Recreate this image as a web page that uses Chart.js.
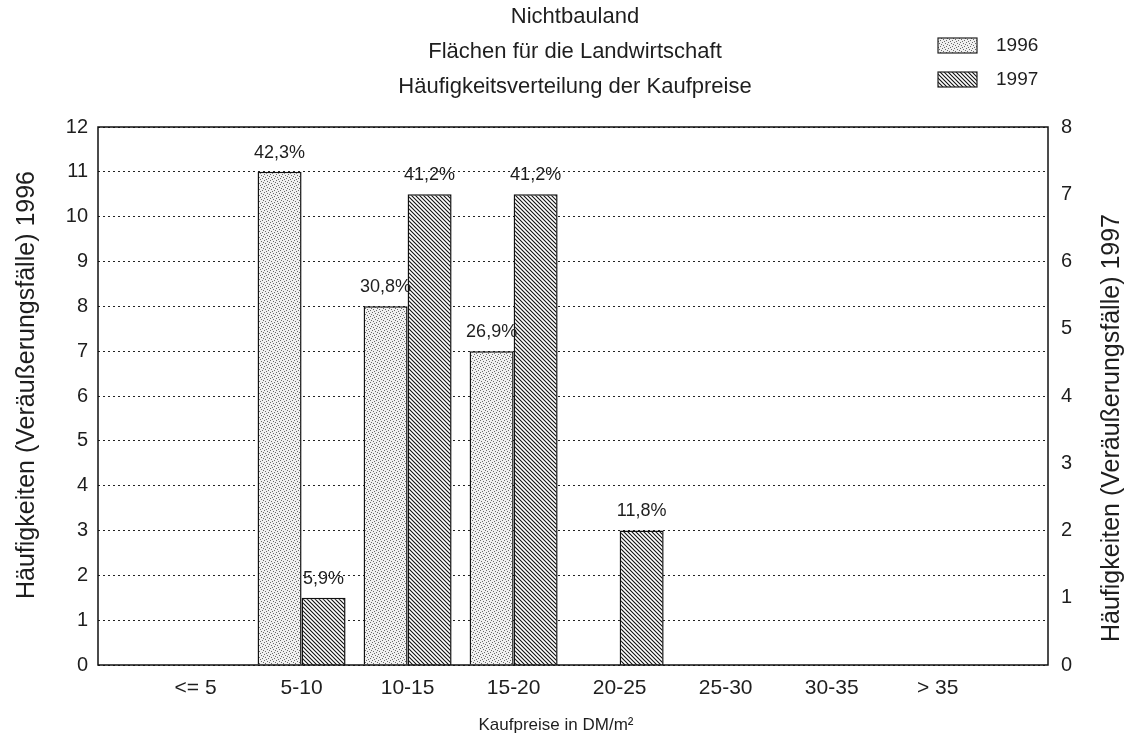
<!DOCTYPE html>
<html>
<head>
<meta charset="utf-8">
<script src="https://cdn.jsdelivr.net/npm/chart.js@4.4.1/dist/chart.umd.min.js"></script>
<style>
  html, body { margin: 0; padding: 0; background: #fff; }
</style>
</head>
<body>
<canvas id="chart" width="1134" height="746"></canvas>
<script>
// data
const categories = ['<= 5', '5-10', '10-15', '15-20', '20-25', '25-30', '30-35', '> 35'];
const values1996 = [0, 11, 8, 7, 0, 0, 0, 0];
const values1997 = [0, 1, 7, 7, 2, 0, 0, 0];
const seriesNames = ['1996', '1997'];
const titleLines = ['Nichtbauland', 'Flächen für die Landwirtschaft', 'Häufigkeitsverteilung der Kaufpreise'];
const xTitle = 'Kaufpreise in DM/m²';
const leftTitle = 'Häufigkeiten (Veräußerungsfälle) 1996';
const rightTitle = 'Häufigkeiten (Veräußerungsfälle) 1997';

const FONT = "'Liberation Sans', Arial, sans-serif";
const INK = '#1e1e1e';

const canvas = document.getElementById('chart');
const ctx = canvas.getContext('2d');

// light stipple for 1996
function stipplePattern() {
  const c = document.createElement('canvas');
  c.width = 6; c.height = 6;
  const g = c.getContext('2d');
  g.fillStyle = '#f0f0f0';
  g.fillRect(0, 0, 6, 6);
  g.fillStyle = '#6a6a6a';
  [[0, 0], [3, 1], [1, 3], [4, 4], [5, 2], [2, 5]].forEach(([x, y]) => g.fillRect(x, y, 1, 1));
  return ctx.createPattern(c, 'repeat');
}

// diagonal hatch for 1997
function hatchPattern() {
  const s = 4;
  const c = document.createElement('canvas');
  c.width = s; c.height = s;
  const g = c.getContext('2d');
  g.fillStyle = '#fff';
  g.fillRect(0, 0, s, s);
  g.strokeStyle = '#111';
  g.lineWidth = 1.1;
  g.beginPath();
  g.moveTo(-1, -1); g.lineTo(s + 1, s + 1);
  g.moveTo(-1, s - 1); g.lineTo(1, s + 1);
  g.moveTo(s - 1, -1); g.lineTo(s + 1, 1);
  g.stroke();
  return ctx.createPattern(c, 'repeat');
}

const fill1996 = stipplePattern();
const fill1997 = hatchPattern();

function pctLabels(values) {
  const total = values.reduce((a, b) => a + b, 0);
  return values.map(v => v > 0 ? (v / total * 100).toFixed(1).replace('.', ',') + '%' : '');
}

const decor = {
  id: 'decor',
  beforeDraw(chart) {
    const c = chart.ctx;
    c.save();
    c.fillStyle = '#fff';
    c.fillRect(0, 0, chart.width, chart.height);
    c.restore();
  },
  afterDatasetsDraw(chart) {
    const c = chart.ctx;
    c.save();
    c.font = '18px ' + FONT;
    c.fillStyle = INK;
    c.textAlign = 'center';
    c.textBaseline = 'middle';
    chart.data.datasets.forEach((ds, di) => {
      const meta = chart.getDatasetMeta(di);
      const labels = pctLabels(ds.data.map(p => p.y));
      meta.data.forEach((bar, i) => {
        if (labels[i]) c.fillText(labels[i], bar.x, bar.y - 19);
      });
    });
    c.restore();
  },
  afterDraw(chart) {
    const c = chart.ctx;
    const a = chart.chartArea;
    c.save();
    // frame
    c.strokeStyle = '#111';
    c.lineWidth = 1.5;
    c.strokeRect(a.left, a.top, a.right - a.left, a.bottom - a.top);

    c.fillStyle = INK;
    c.textAlign = 'center';
    c.textBaseline = 'middle';
    c.font = '22px ' + FONT;
    titleLines.forEach((t, i) => c.fillText(t, 575, 17 + i * 35));

    c.font = '17px ' + FONT;
    c.fillText(xTitle, 556, 725);

    // rotated axis titles, both read bottom to top
    c.font = '25px ' + FONT;
    c.save();
    c.translate(27, 385);
    c.rotate(-Math.PI / 2);
    c.fillText(leftTitle, 0, 0);
    c.restore();
    c.save();
    c.translate(1112, 428);
    c.rotate(-Math.PI / 2);
    c.fillText(rightTitle, 0, 0);
    c.restore();

    // legend
    c.font = '19px ' + FONT;
    c.textAlign = 'left';
    chart.data.datasets.forEach((ds, i) => {
      const y = 38 + i * 34;
      c.fillStyle = ds.backgroundColor;
      c.fillRect(938, y, 39, 15);
      c.strokeStyle = '#222';
      c.lineWidth = 1.2;
      c.strokeRect(938, y, 39, 15);
      c.fillStyle = INK;
      c.fillText(ds.label, 996, y + 8);
    });
    c.restore();
  }
};

new Chart(canvas, {
  type: 'bar',
  data: {
    datasets: [
      {
        label: seriesNames[0],
        data: values1996.map((v, i) => ({ x: i, y: v })),
        yAxisID: 'y',
        backgroundColor: fill1996,
        borderColor: '#111',
        borderWidth: 1.5,
        borderSkipped: 'bottom'
      },
      {
        label: seriesNames[1],
        data: values1997.map((v, i) => ({ x: i, y: v })),
        yAxisID: 'y1',
        backgroundColor: fill1997,
        borderColor: '#111',
        borderWidth: 1.5,
        borderSkipped: 'bottom'
      }
    ]
  },
  options: {
    responsive: false,
    animation: false,
    layout: { padding: { top: 127, left: 0, right: 0, bottom: 0 } },
    datasets: { bar: { categoryPercentage: 0.83, barPercentage: 1.0 } },
    scales: {
      x: {
        type: 'linear',
        position: 'bottom',
        min: -0.92,
        max: 8.04,
        offset: false,
        afterBuildTicks: s => { s.ticks = categories.map((c, i) => ({ value: i })); },
        afterFit: s => { s.height = 81; },
        grid: { display: false },
        border: { display: false },
        ticks: {
          autoSkip: false,
          maxRotation: 0,
          padding: 3,
          color: INK,
          font: { family: FONT, size: 21 },
          callback: v => categories[v] ?? ''
        }
      },
      y: {
        position: 'left',
        min: 0,
        max: 12,
        afterFit: s => { s.width = 98; },
        grid: { color: '#222', lineWidth: 1, drawTicks: false },
        border: { display: false, dash: [2, 3] },
        ticks: { stepSize: 1, padding: 10, color: INK, font: { family: FONT, size: 20 } }
      },
      y1: {
        position: 'right',
        min: 0,
        max: 8,
        afterFit: s => { s.width = 86; },
        grid: { display: false, drawTicks: false },
        border: { display: false },
        ticks: { stepSize: 1, padding: 13, color: INK, font: { family: FONT, size: 20 } }
      }
    },
    plugins: {
      legend: { display: false },
      tooltip: { enabled: false },
      title: { display: false }
    }
  },
  plugins: [decor]
});
</script>
</body>
</html>
